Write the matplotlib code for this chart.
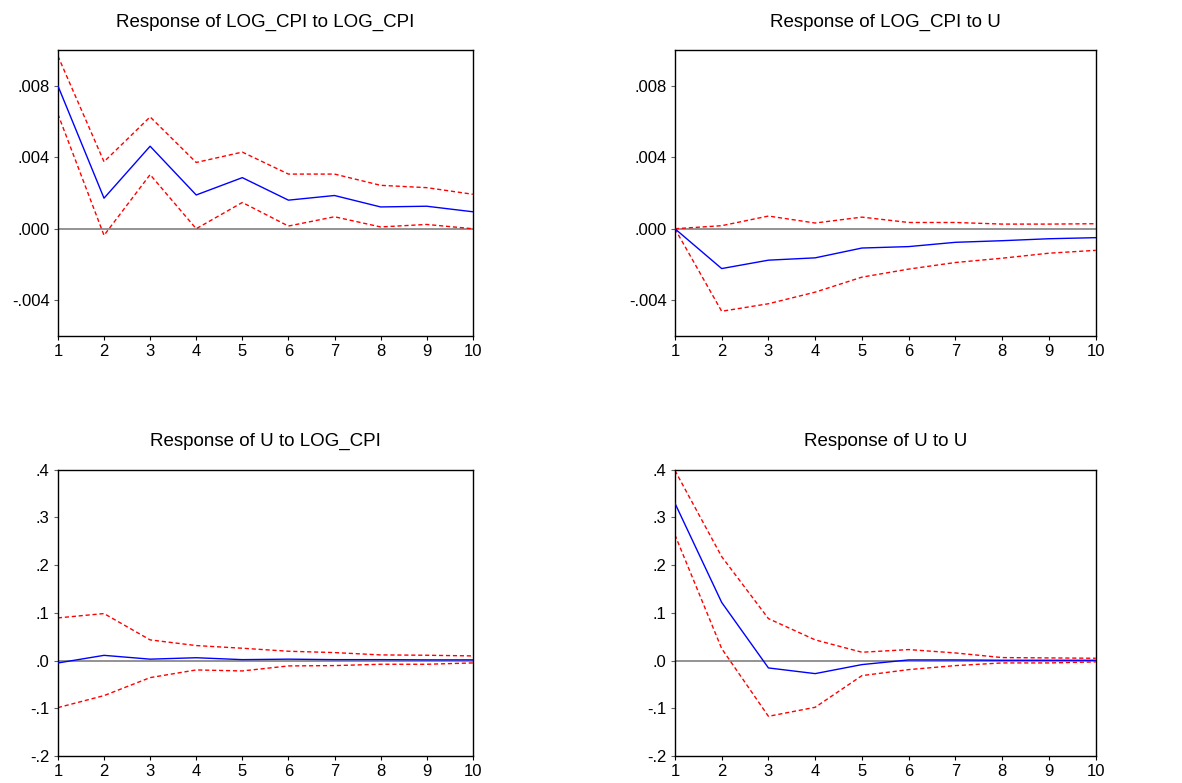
"""Impulse responses of LOG_CPI and U with +/- 2 S.E. bands."""

import matplotlib.pyplot as plt
import numpy as np
from matplotlib.ticker import FuncFormatter

plt.rcParams["font.family"] = ["Liberation Sans", "DejaVu Sans"]

periods = np.arange(1, 11)

titles = [
    "Response of LOG_CPI to LOG_CPI",
    "Response of LOG_CPI to U",
    "Response of U to LOG_CPI",
    "Response of U to U",
]

cpi_cpi = [0.0080, 0.00171, 0.00462, 0.00189, 0.00286, 0.00160, 0.00186, 0.00122, 0.00126, 0.00095]
cpi_cpi_hi = [0.00967, 0.00375, 0.00626, 0.00371, 0.00429, 0.00306, 0.00306, 0.00243, 0.00230, 0.00193]
cpi_cpi_lo = [0.00642, -0.00037, 0.00303, 0.0, 0.00147, 0.00015, 0.00067, 0.00010, 0.00024, 0.0]

cpi_u = [0.0, -0.00223, -0.00176, -0.00163, -0.00108, -0.00100, -0.00076, -0.00067, -0.00056, -0.00050]
cpi_u_hi = [0.0, 0.00017, 0.00071, 0.00032, 0.00065, 0.00035, 0.00035, 0.00026, 0.00026, 0.00028]
cpi_u_lo = [0.0, -0.00462, -0.00420, -0.00355, -0.00271, -0.00226, -0.00189, -0.00165, -0.00137, -0.00121]

u_cpi = [-0.005, 0.011, 0.003, 0.006, 0.002, 0.003, 0.002, 0.002, 0.0015, 0.0015]
u_cpi_hi = [0.0895, 0.0986, 0.0434, 0.0315, 0.0259, 0.0196, 0.0168, 0.0119, 0.0112, 0.0098]
u_cpi_lo = [-0.0986, -0.0734, -0.0357, -0.0196, -0.0217, -0.0112, -0.0105, -0.0077, -0.0077, -0.0049]

u_u = [0.330, 0.122, -0.0154, -0.0273, -0.0084, 0.0014, 0.0014, 0.0007, 0.0007, 0.0007]
u_u_hi = [0.3986, 0.218, 0.088, 0.0434, 0.0175, 0.0231, 0.016, 0.0063, 0.0056, 0.0049]
u_u_lo = [0.2636, 0.0252, -0.1168, -0.0979, -0.0315, -0.0189, -0.0105, -0.0049, -0.0049, -0.0028]

cpi_ylim = (-0.006, 0.010)
cpi_yticks = [-0.004, 0.0, 0.004, 0.008]
u_ylim = (-0.2, 0.4)
u_yticks = [-0.2, -0.1, 0.0, 0.1, 0.2, 0.3, 0.4]


def eviews_label(decimals):
    """Format like EViews: drop the leading zero (.004, -.004)."""
    def fmt(value, _pos):
        text = f"{value:.{decimals}f}"
        if text.startswith("-0"):
            return "-" + text[2:]
        if text.startswith("0"):
            return text[1:]
        return text
    return FuncFormatter(fmt)


panels = [
    (cpi_cpi, cpi_cpi_hi, cpi_cpi_lo, cpi_ylim, cpi_yticks, 3),
    (cpi_u, cpi_u_hi, cpi_u_lo, cpi_ylim, cpi_yticks, 3),
    (u_cpi, u_cpi_hi, u_cpi_lo, u_ylim, u_yticks, 1),
    (u_u, u_u_hi, u_u_lo, u_ylim, u_yticks, 1),
]

positions = [
    [0.049, 0.571, 0.351, 0.365],
    [0.571, 0.571, 0.356, 0.365],
    [0.049, 0.0345, 0.351, 0.3655],
    [0.571, 0.0345, 0.356, 0.3655],
]

fig = plt.figure(figsize=(11.82, 7.83), dpi=100)

for title, pos, (resp, hi, lo, ylim, yticks, dec) in zip(titles, positions, panels):
    ax = fig.add_axes(pos)
    ax.axhline(0, color="#808080", linewidth=1.2, zorder=1)
    ax.plot(periods, hi, color="red", linestyle=(0, (3, 2)), linewidth=1.0, zorder=2)
    ax.plot(periods, lo, color="red", linestyle=(0, (3, 2)), linewidth=1.0, zorder=2)
    ax.plot(periods, resp, color="blue", linewidth=1.0, zorder=3)

    ax.set_xlim(1, 10)
    ax.set_ylim(*ylim)
    ax.set_xticks(periods)
    ax.set_yticks(yticks)
    ax.yaxis.set_major_formatter(eviews_label(dec))
    ax.tick_params(direction="out", length=3, width=0.8, labelsize=12, pad=3)
    ax.tick_params(axis="y", colors="#606060", labelcolor="black")
    ax.tick_params(axis="x", colors="black")
    for spine in ax.spines.values():
        spine.set_linewidth(1.0)
    ax.set_title(title, fontsize=13.5, pad=17)

fig.savefig("out.png", dpi=100)
